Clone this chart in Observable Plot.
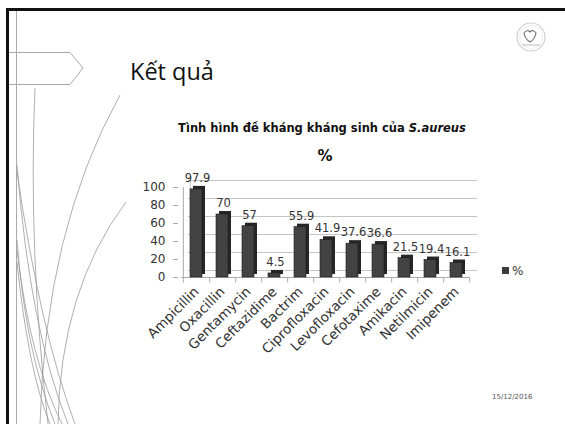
<!DOCTYPE html>
<html>
<head>
<meta charset="utf-8">
<script src="https://cdn.jsdelivr.net/npm/d3@7"></script>
<script src="https://cdn.jsdelivr.net/npm/@observablehq/plot@0.6"></script>
<style>
  html, body { margin:0; padding:0; background:#fff; }
  #slide { position:relative; width:565px; height:424px; overflow:hidden; background:#fff; }
  #deco { position:absolute; left:0; top:0; }
  .t { position:absolute; white-space:nowrap; line-height:1; }
  #chart { position:absolute; left:0; top:160px; }
</style>
</head>
<body>
<div id="slide">
  <svg id="deco" width="565" height="424">
    <rect x="6" y="8" width="559" height="3" fill="#111"/>
    <rect x="6" y="8" width="3" height="416" fill="#111"/>
    <line x1="16.5" y1="11" x2="16.5" y2="424" stroke="#aaa" stroke-width="1"/>
    <polyline points="9,52.5 70,52.5 83,68 70,84.5 9,84.5" fill="none" stroke="#aaa" stroke-width="1"/>
    <g fill="none" stroke="#9a9a9a" stroke-width="0.8">
      <path d="M35,88 Q28,250 48,424"/>
      <path d="M120,95 Q45,230 40,424"/>
      <path d="M126,202 Q60,290 58,424"/>
      <path d="M17,165 Q30,330 68,424"/>
      <path d="M17,172 Q40,330 75,424"/>
      <path d="M17,240 Q25,350 55,424"/>
      <path d="M17,250 Q30,360 62,424"/>
      <path d="M17,262 Q28,370 50,424"/>
    </g>
    <g>
      <circle cx="531" cy="37" r="14" fill="#fff" stroke="#d0d0d0" stroke-width="1.2"/>
      <circle cx="531" cy="37" r="11.5" fill="none" stroke="#e6e6e6" stroke-width="0.8"/>
      <path d="M524,33 Q527,29 530,32 Q533,29 536,33 Q535,39 530,42 Q525,39 524,33 Z" fill="none" stroke="#777" stroke-width="1.2"/>
      <line x1="522" y1="45" x2="540" y2="45" stroke="#bbb" stroke-width="1"/>
    </g>
  </svg>

  <div class="t" style="left:130px; top:60px; font-family:'Open Sans'; font-size:23.5px; color:#111;">Kết quả</div>
  <div class="t" style="left:322px; top:123px; transform:translateX(-50%); font-family:'DejaVu Sans'; font-weight:bold; font-size:11.5px; color:#111;">Tình hình đề kháng kháng sinh của <i>S.aureus</i></div>
  <div class="t" style="left:325px; top:149px; transform:translateX(-50%); font-family:'DejaVu Sans'; font-weight:bold; font-size:15px; color:#111;">%</div>

  <div id="chart"></div>

  <div class="t" style="left:502px; top:265px; font-family:'DejaVu Sans'; font-size:12px; color:#333;"><span style="display:inline-block; width:7px; height:7px; background:#3d3d3d; margin-right:3px; vertical-align:1px;"></span>%</div>
  <div class="t" style="left:492px; top:394px; font-family:'DejaVu Sans'; font-size:7px; color:#555;">15/12/2016</div>
</div>

<script>
const categories = ["Ampicillin","Oxacillin","Gentamycin","Ceftazidime","Bactrim","Ciprofloxacin","Levofloxacin","Cefotaxime","Amikacin","Netilmicin","Imipenem"];
const values = [97.9, 70, 57, 4.5, 55.9, 41.9, 37.6, 36.6, 21.5, 19.4, 16.1];
const yTicks = [0, 20, 40, 60, 80, 100];

const data = categories.map((c, i) => ({drug: c, pct: values[i]}));

const chart = Plot.plot({
  width: 565,
  height: 200,
  marginLeft: 181,
  marginRight: 95,
  marginTop: 27,
  marginBottom: 83,
  x: {domain: categories, paddingInner: 0.54, paddingOuter: 0.27, label: null},
  y: {domain: [0, 100], label: null},
  style: {fontFamily: "DejaVu Sans", color: "#222", background: "transparent", overflow: "visible"},
  marks: [
    Plot.ruleY(yTicks, {dx: 7, dy: -7, stroke: "#c4c4c4"}),
    Plot.ruleX([categories[0]], {y1: 0, y2: 100, dx: -13.15 + 7, dy: -7, stroke: "#c4c4c4"}),
    Plot.ruleX([categories[0]], {y1: 0, y2: 100, dx: -13.15, stroke: "#aaa"}),
    Plot.ruleY([0], {stroke: "#aaa"}),
    Plot.ruleX(categories, {y1: 0, y2: -6, dx: 13.15, stroke: "#aaa"}),
    Plot.ruleX([categories[0]], {y1: 0, y2: -6, dx: -13.15, stroke: "#aaa"}),
    Plot.barY(data, {x: "drug", y: "pct", dx: 3, dy: -3, fill: "#262626"}),
    Plot.barY(data, {x: "drug", y: "pct", fill: "#434343", stroke: "#1e1e1e", strokeWidth: 0.6}),
    Plot.text(data, {x: "drug", y: "pct", text: d => String(d.pct), dy: -11, dx: 1, fontSize: 11.5, fill: "#333"}),
    Plot.axisY({ticks: yTicks, tickSize: 5, tickPadding: 8, dx: -3, fontSize: 12, label: null, stroke: "#aaa", color: "#333"}),
    Plot.axisX({tickRotate: -45, tickSize: 0, tickPadding: 12, fontSize: 13.5, label: null, color: "#333"})
  ]
});
document.getElementById("chart").appendChild(chart);
</script>
</body>
</html>
